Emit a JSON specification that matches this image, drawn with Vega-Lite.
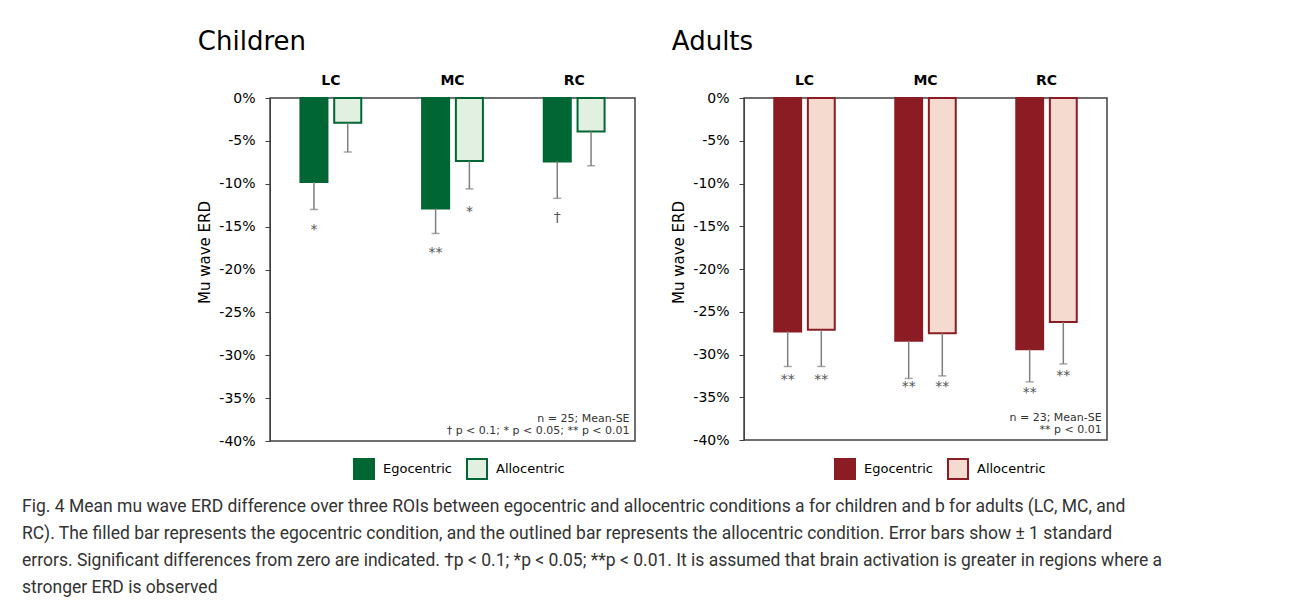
{
  "$schema": "https://vega.github.io/schema/vega-lite/v6.json",
  "background": "white",
  "padding": {"left": 22, "top": 28, "right": 5, "bottom": 5},
  "datasets": {
    "children": [
      {"roi": "LC", "cond": "Egocentric", "value": -9.8, "lower": -13.0, "sig": "*", "sig_pos": -15.1},
      {"roi": "LC", "cond": "Allocentric", "value": -2.9, "lower": -6.3, "sig": "", "sig_pos": -8.0},
      {"roi": "MC", "cond": "Egocentric", "value": -12.9, "lower": -15.8, "sig": "**", "sig_pos": -17.7},
      {"roi": "MC", "cond": "Allocentric", "value": -7.35, "lower": -10.6, "sig": "*", "sig_pos": -13.0},
      {"roi": "RC", "cond": "Egocentric", "value": -7.4, "lower": -11.7, "sig": "†", "sig_pos": -13.7},
      {"roi": "RC", "cond": "Allocentric", "value": -3.9, "lower": -7.9, "sig": "", "sig_pos": -9.5}
    ],
    "adults": [
      {"roi": "LC", "cond": "Egocentric", "value": -27.3, "lower": -31.4, "sig": "**", "sig_pos": -32.6},
      {"roi": "LC", "cond": "Allocentric", "value": -27.1, "lower": -31.4, "sig": "**", "sig_pos": -32.6},
      {"roi": "MC", "cond": "Egocentric", "value": -28.4, "lower": -32.8, "sig": "**", "sig_pos": -33.5},
      {"roi": "MC", "cond": "Allocentric", "value": -27.5, "lower": -32.5, "sig": "**", "sig_pos": -33.5},
      {"roi": "RC", "cond": "Egocentric", "value": -29.4, "lower": -33.2, "sig": "**", "sig_pos": -34.2},
      {"roi": "RC", "cond": "Allocentric", "value": -26.2, "lower": -31.1, "sig": "**", "sig_pos": -32.2}
    ],
    "children_note": [{"roi": "RC", "pos": -40, "note": "n = 25; Mean-SE\n† p < 0.1; * p < 0.05; ** p < 0.01"}],
    "adults_note": [{"roi": "RC", "pos": -40, "note": "n = 23; Mean-SE\n** p < 0.01"}]
  },
  "title": {
    "text": [
      "Fig. 4 Mean mu wave ERD difference over three ROIs between egocentric and allocentric conditions a for children and b for adults (LC, MC, and",
      "RC). The filled bar represents the egocentric condition, and the outlined bar represents the allocentric condition. Error bars show ± 1 standard",
      "errors. Significant differences from zero are indicated. †p < 0.1; *p < 0.05; **p < 0.01. It is assumed that brain activation is greater in regions where a",
      "stronger ERD is observed"
    ],
    "orient": "bottom",
    "anchor": "start",
    "frame": "bounds",
    "dx": -175,
    "offset": 14,
    "font": "Roboto",
    "fontSize": 17.5,
    "fontWeight": "normal",
    "lineHeight": 27,
    "color": "#333333"
  },
  "spacing": 35,
  "resolve": {
    "scale": {"x": "independent", "y": "independent", "xOffset": "independent", "fill": "independent", "stroke": "independent"},
    "legend": {"fill": "independent", "stroke": "independent"}
  },
  "hconcat": [
    {
      "width": 365,
      "height": 343,
      "title": {"text": "Children", "anchor": "start", "frame": "bounds", "fontSize": 26, "fontWeight": "normal", "color": "black", "offset": 18},
      "layer": [
        {
          "data": {"name": "children"},
          "mark": {"type": "bar", "strokeWidth": 2},
          "encoding": {
            "x": {"field": "roi", "type": "nominal", "sort": ["LC", "MC", "RC"], "scale": {"paddingInner": 0.5, "paddingOuter": 0.25},
                  "axis": {"orient": "top", "title": null, "labelAngle": 0, "labelFontWeight": "bold", "labelFontSize": 14, "ticks": false, "domain": false, "labelPadding": 11, "labelColor": "black"}},
            "xOffset": {"field": "cond", "type": "nominal", "sort": ["Egocentric", "Allocentric"], "scale": {"paddingInner": 0.2, "paddingOuter": 0}},
            "y": {"field": "value", "type": "quantitative", "scale": {"domain": [-40, 0], "nice": false},
                  "axis": {"title": "Mu wave ERD", "values": [-40, -35, -30, -25, -20, -15, -10, -5, 0], "labelExpr": "datum.value + '%'", "grid": false, "labelFontSize": 14, "labelColor": "black", "titleFontSize": 15, "titleFontWeight": "normal", "titleColor": "black", "tickSize": 5, "labelPadding": 10, "titlePadding": 6, "titleY": 154, "domainColor": "#404040", "tickColor": "#404040"}},
            "fill": {"field": "cond", "type": "nominal", "scale": {"domain": ["Egocentric", "Allocentric"], "range": ["#006633", "#e2f0e2"]},
                     "legend": {"orient": "none", "legendX": 83, "legendY": 360, "direction": "horizontal", "title": null, "symbolType": "square", "symbolSize": 400, "symbolStrokeWidth": 2, "labelFontSize": 13, "labelOffset": 8, "columnPadding": 10, "labelColor": "black"}},
            "stroke": {"field": "cond", "type": "nominal", "scale": {"domain": ["Egocentric", "Allocentric"], "range": ["#006633", "#006633"]},
                     "legend": {"orient": "none", "legendX": 83, "legendY": 360, "direction": "horizontal", "title": null, "symbolType": "square", "symbolSize": 400, "symbolStrokeWidth": 2, "labelFontSize": 13, "labelOffset": 8, "columnPadding": 10, "labelColor": "black"}}
          }
        },
        {
          "data": {"name": "children"},
          "mark": {"type": "rule", "color": "#7f7f7f", "strokeWidth": 1.5},
          "encoding": {
            "x": {"field": "roi", "type": "nominal", "sort": ["LC", "MC", "RC"]},
            "xOffset": {"field": "cond", "type": "nominal", "sort": ["Egocentric", "Allocentric"]},
            "y": {"field": "value", "type": "quantitative"},
            "y2": {"field": "lower"}
          }
        },
        {
          "data": {"name": "children"},
          "mark": {"type": "tick", "color": "#7f7f7f", "size": 8, "thickness": 1.5},
          "encoding": {
            "x": {"field": "roi", "type": "nominal", "sort": ["LC", "MC", "RC"]},
            "xOffset": {"field": "cond", "type": "nominal", "sort": ["Egocentric", "Allocentric"]},
            "y": {"field": "lower", "type": "quantitative"}
          }
        },
        {
          "data": {"name": "children"},
          "mark": {"type": "text", "fontSize": 14, "fill": "#555555", "baseline": "middle", "dy": 3},
          "encoding": {
            "x": {"field": "roi", "type": "nominal", "sort": ["LC", "MC", "RC"]},
            "xOffset": {"field": "cond", "type": "nominal", "sort": ["Egocentric", "Allocentric"]},
            "y": {"field": "sig_pos", "type": "quantitative"},
            "text": {"field": "sig"}
          }
        },
        {
          "data": {"name": "children_note"},
          "mark": {"type": "text", "fontSize": 11, "fill": "#333333", "align": "right", "baseline": "bottom", "lineBreak": "\n", "lineHeight": 12, "dx": 25, "dy": -17},
          "encoding": {
            "x": {"field": "roi", "type": "nominal", "bandPosition": 1},
            "y": {"field": "pos", "type": "quantitative"},
            "text": {"field": "note"}
          }
        }
      ]
    },
    {
      "width": 363,
      "height": 342,
      "title": {"text": "Adults", "anchor": "start", "frame": "bounds", "fontSize": 26, "fontWeight": "normal", "color": "black", "offset": 18},
      "layer": [
        {
          "data": {"name": "adults"},
          "mark": {"type": "bar", "strokeWidth": 2},
          "encoding": {
            "x": {"field": "roi", "type": "nominal", "sort": ["LC", "MC", "RC"], "scale": {"paddingInner": 0.5, "paddingOuter": 0.25},
                  "axis": {"orient": "top", "title": null, "labelAngle": 0, "labelFontWeight": "bold", "labelFontSize": 14, "ticks": false, "domain": false, "labelPadding": 11, "labelColor": "black"}},
            "xOffset": {"field": "cond", "type": "nominal", "sort": ["Egocentric", "Allocentric"], "scale": {"paddingInner": 0.2, "paddingOuter": 0}},
            "y": {"field": "value", "type": "quantitative", "scale": {"domain": [-40, 0], "nice": false},
                  "axis": {"title": "Mu wave ERD", "values": [-40, -35, -30, -25, -20, -15, -10, -5, 0], "labelExpr": "datum.value + '%'", "grid": false, "labelFontSize": 14, "labelColor": "black", "titleFontSize": 15, "titleFontWeight": "normal", "titleColor": "black", "tickSize": 5, "labelPadding": 10, "titlePadding": 6, "titleY": 154, "domainColor": "#404040", "tickColor": "#404040"}},
            "fill": {"field": "cond", "type": "nominal", "scale": {"domain": ["Egocentric", "Allocentric"], "range": ["#8b1c24", "#f5dad0"]},
                     "legend": {"orient": "none", "legendX": 90, "legendY": 360, "direction": "horizontal", "title": null, "symbolType": "square", "symbolSize": 400, "symbolStrokeWidth": 2, "labelFontSize": 13, "labelOffset": 8, "columnPadding": 10, "labelColor": "black"}},
            "stroke": {"field": "cond", "type": "nominal", "scale": {"domain": ["Egocentric", "Allocentric"], "range": ["#8b1c24", "#8b1c24"]},
                     "legend": {"orient": "none", "legendX": 90, "legendY": 360, "direction": "horizontal", "title": null, "symbolType": "square", "symbolSize": 400, "symbolStrokeWidth": 2, "labelFontSize": 13, "labelOffset": 8, "columnPadding": 10, "labelColor": "black"}}
          }
        },
        {
          "data": {"name": "adults"},
          "mark": {"type": "rule", "color": "#7f7f7f", "strokeWidth": 1.5},
          "encoding": {
            "x": {"field": "roi", "type": "nominal", "sort": ["LC", "MC", "RC"]},
            "xOffset": {"field": "cond", "type": "nominal", "sort": ["Egocentric", "Allocentric"]},
            "y": {"field": "value", "type": "quantitative"},
            "y2": {"field": "lower"}
          }
        },
        {
          "data": {"name": "adults"},
          "mark": {"type": "tick", "color": "#7f7f7f", "size": 8, "thickness": 1.5},
          "encoding": {
            "x": {"field": "roi", "type": "nominal", "sort": ["LC", "MC", "RC"]},
            "xOffset": {"field": "cond", "type": "nominal", "sort": ["Egocentric", "Allocentric"]},
            "y": {"field": "lower", "type": "quantitative"}
          }
        },
        {
          "data": {"name": "adults"},
          "mark": {"type": "text", "fontSize": 14, "fill": "#555555", "baseline": "middle", "dy": 3},
          "encoding": {
            "x": {"field": "roi", "type": "nominal", "sort": ["LC", "MC", "RC"]},
            "xOffset": {"field": "cond", "type": "nominal", "sort": ["Egocentric", "Allocentric"]},
            "y": {"field": "sig_pos", "type": "quantitative"},
            "text": {"field": "sig"}
          }
        },
        {
          "data": {"name": "adults_note"},
          "mark": {"type": "text", "fontSize": 11, "fill": "#333333", "align": "right", "baseline": "bottom", "lineBreak": "\n", "lineHeight": 12, "dx": 25, "dy": -17},
          "encoding": {
            "x": {"field": "roi", "type": "nominal", "bandPosition": 1},
            "y": {"field": "pos", "type": "quantitative"},
            "text": {"field": "note"}
          }
        }
      ]
    }
  ],
  "config": {
    "font": "DejaVu Sans",
    "view": {"stroke": "#404040", "strokeWidth": 1.5},
    "axis": {"labelFont": "DejaVu Sans", "titleFont": "DejaVu Sans"}
  }
}
